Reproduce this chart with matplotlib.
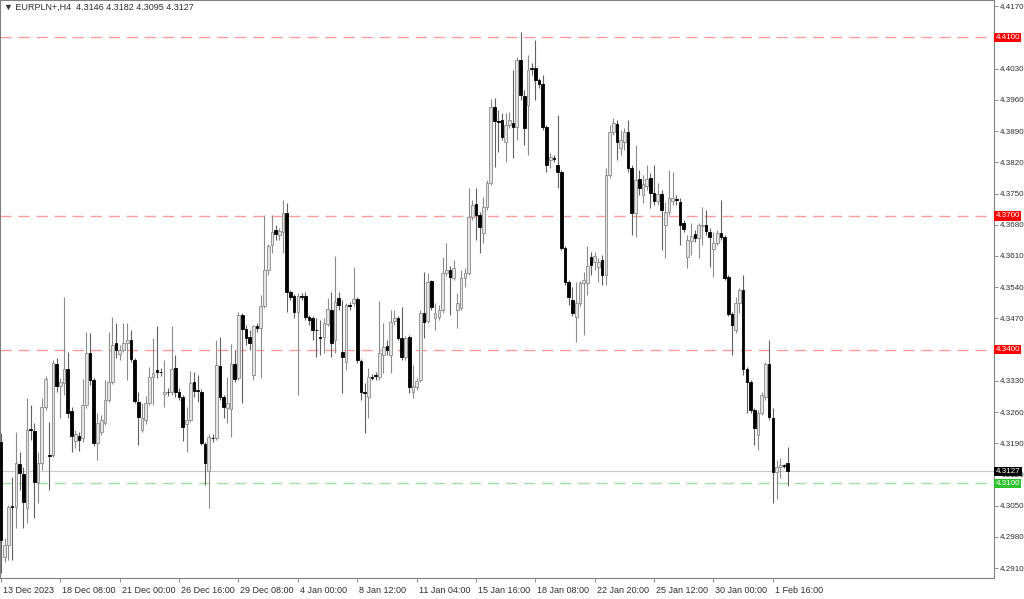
import numpy as np
import matplotlib
matplotlib.use('Agg')
import matplotlib.pyplot as plt
import matplotlib.transforms as mtransforms

plt.rcParams['font.family'] = ['Liberation Sans', 'DejaVu Sans']

# EURPLN+ H4 - lecture des bougies (open, high, low, close)
opens = [4.3193, 4.2935, 4.2962, 4.3049, 4.3047, 4.3143, 4.3121, 4.3045, 4.3222, 4.3217,
         4.3103, 4.3146, 4.3271, 4.3163, 4.3163, 4.3367, 4.3318, 4.3325, 4.3356, 4.3262,
         4.3195, 4.3206, 4.3202, 4.3276, 4.3392, 4.3332, 4.3190, 4.3215, 4.3235, 4.3287,
         4.3327, 4.3415, 4.3390, 4.3399, 4.3415, 4.3421, 4.3376, 4.3282, 4.3219, 4.3242,
         4.3280, 4.3338, 4.3354, 4.3350, 4.3300, 4.3305, 4.3305, 4.3359, 4.3305, 4.3293,
         4.3233, 4.3242, 4.3327, 4.3309, 4.3305, 4.3188, 4.3128, 4.3202, 4.3202, 4.3363,
         4.3293, 4.3269, 4.3267, 4.3367, 4.3336, 4.3477, 4.3446, 4.3428, 4.3343, 4.3453,
         4.3448, 4.3497, 4.3578, 4.3634, 4.3668, 4.3657, 4.3663, 4.3706, 4.3529, 4.3520,
         4.3484, 4.3520, 4.3520, 4.3473, 4.3471, 4.3444, 4.3428, 4.3428, 4.3457, 4.3489,
         4.3421, 4.3515, 4.3394, 4.3372, 4.3500, 4.3504, 4.3513, 4.3374, 4.3305, 4.3293,
         4.3338, 4.3343, 4.3338, 4.3388, 4.3408, 4.3388, 4.3464, 4.3471, 4.3426, 4.3383,
         4.3428, 4.3305, 4.3316, 4.3332, 4.3482, 4.3464, 4.3554, 4.3471, 4.3473, 4.3489,
         4.3572, 4.3578, 4.3560, 4.3489, 4.3493, 4.3560, 4.3572, 4.3697, 4.3726, 4.3701,
         4.3661, 4.3719, 4.3773, 4.3944, 4.3912, 4.3915, 4.3865, 4.3903, 4.3908, 4.3899,
         4.4049, 4.3968, 4.3948, 4.4031, 4.4031, 4.4004, 4.3995, 4.3899, 4.3825, 4.3829,
         4.3814, 4.3798, 4.3627, 4.3551, 4.3511, 4.3473, 4.3504, 4.3549, 4.3549, 4.3607,
         4.3596, 4.3585, 4.3601, 4.3567, 4.3791, 4.3888, 4.3906, 4.3852, 4.3865, 4.3888,
         4.3807, 4.3706, 4.3782, 4.3746, 4.3766, 4.3785, 4.3751, 4.3733, 4.3749, 4.3679,
         4.3708, 4.3733, 4.3737, 4.3731, 4.3684, 4.3607, 4.3643, 4.3659, 4.3650, 4.3677,
         4.3679, 4.3663, 4.3625, 4.3639, 4.3661, 4.3652, 4.3562, 4.3480, 4.3444, 4.3504,
         4.3533, 4.3356, 4.3327, 4.3264, 4.3208, 4.3258, 4.3293, 4.3367, 4.3246, 4.3125,
         4.3137, 4.3141, 4.3146]
highs = [4.3213, 4.2977, 4.3051, 4.3114, 4.3215, 4.3170, 4.3137, 4.3291, 4.3276, 4.3235,
         4.3170, 4.3291, 4.3341, 4.3237, 4.3376, 4.3381, 4.3336, 4.3518, 4.3394, 4.3271,
         4.3219, 4.3215, 4.3334, 4.3439, 4.3437, 4.3336, 4.3258, 4.3253, 4.3332, 4.3439,
         4.3473, 4.3459, 4.3410, 4.3459, 4.3459, 4.3444, 4.3381, 4.3305, 4.3280, 4.3296,
         4.3361, 4.3426, 4.3453, 4.3359, 4.3376, 4.3314, 4.3453, 4.3388, 4.3314, 4.3298,
         4.3271, 4.3352, 4.3350, 4.3343, 4.3311, 4.3193, 4.3210, 4.3210, 4.3421, 4.3428,
         4.3298, 4.3338, 4.3412, 4.3399, 4.3484, 4.3482, 4.3455, 4.3444, 4.3455, 4.3459,
         4.3522, 4.3701, 4.3636, 4.3701, 4.3679, 4.3672, 4.3735, 4.3728, 4.3533, 4.3524,
         4.3527, 4.3527, 4.3529, 4.3477, 4.3475, 4.3471, 4.3466, 4.3471, 4.3515, 4.3529,
         4.3610, 4.3529, 4.3511, 4.3504, 4.3506, 4.3585, 4.3518, 4.3379, 4.3325, 4.3359,
         4.3345, 4.3350, 4.3509, 4.3459, 4.3421, 4.3489, 4.3489, 4.3475, 4.3495, 4.3430,
         4.3432, 4.3365, 4.3336, 4.3489, 4.3574, 4.3572, 4.3556, 4.3504, 4.3500, 4.3607,
         4.3639, 4.3587, 4.3601, 4.3527, 4.3578, 4.3583, 4.3762, 4.3735, 4.3762, 4.3708,
         4.3742, 4.3780, 4.3962, 4.3964, 4.3937, 4.3930, 4.3930, 4.3932, 4.4027, 4.4056,
         4.4112, 4.3982, 4.4060, 4.4042, 4.4094, 4.4009, 4.4015, 4.3903, 4.3840, 4.3836,
         4.3926, 4.3802, 4.3632, 4.3556, 4.3540, 4.3551, 4.3554, 4.3574, 4.3632, 4.3619,
         4.3619, 4.3605, 4.3612, 4.3807, 4.3903, 4.3919, 4.3915, 4.3892, 4.3897, 4.3915,
         4.3814, 4.3858, 4.3802, 4.3791, 4.3814, 4.3796, 4.3814, 4.3773, 4.3757, 4.3731,
         4.3802, 4.3798, 4.3746, 4.3740, 4.3690, 4.3657, 4.3684, 4.3668, 4.3684, 4.3719,
         4.3713, 4.3672, 4.3663, 4.3668, 4.3735, 4.3657, 4.3567, 4.3484, 4.3518, 4.3538,
         4.3567, 4.3361, 4.3332, 4.3269, 4.3264, 4.3305, 4.3372, 4.3421, 4.3269, 4.3152,
         4.3157, 4.3143, 4.3182]
lows = [4.2899, 4.2924, 4.2928, 4.2928, 4.3000, 4.3085, 4.3000, 4.3011, 4.3197, 4.3022,
        4.3056, 4.3130, 4.3264, 4.3085, 4.3159, 4.3305, 4.3246, 4.3298, 4.3246, 4.3170,
        4.3179, 4.3172, 4.3193, 4.3269, 4.3320, 4.3184, 4.3152, 4.3208, 4.3231, 4.3282,
        4.3323, 4.3381, 4.3376, 4.3394, 4.3332, 4.3372, 4.3280, 4.3186, 4.3215, 4.3233,
        4.3276, 4.3276, 4.3336, 4.3341, 4.3271, 4.3296, 4.3298, 4.3293, 4.3287, 4.3195,
        4.3170, 4.3237, 4.3293, 4.3282, 4.3186, 4.3096, 4.3045, 4.3193, 4.3197, 4.3287,
        4.3246, 4.3235, 4.3204, 4.3327, 4.3332, 4.3280, 4.3410, 4.3399, 4.3332, 4.3439,
        4.3336, 4.3493, 4.3567, 4.3616, 4.3645, 4.3645, 4.3616, 4.3484, 4.3511, 4.3471,
        4.3298, 4.3511, 4.3466, 4.3455, 4.3421, 4.3383, 4.3388, 4.3392, 4.3453, 4.3383,
        4.3392, 4.3489, 4.3302, 4.3354, 4.3489, 4.3497, 4.3370, 4.3287, 4.3213, 4.3246,
        4.3332, 4.3332, 4.3332, 4.3347, 4.3388, 4.3347, 4.3455, 4.3421, 4.3376, 4.3376,
        4.3302, 4.3291, 4.3309, 4.3327, 4.3426, 4.3459, 4.3489, 4.3444, 4.3466, 4.3482,
        4.3565, 4.3477, 4.3556, 4.3448, 4.3489, 4.3540, 4.3567, 4.3690, 4.3645, 4.3616,
        4.3639, 4.3713, 4.3769, 4.3809, 4.3843, 4.3870, 4.3820, 4.3897, 4.3829, 4.3870,
        4.3959, 4.3858, 4.3836, 4.4015, 4.3959, 4.3986, 4.3892, 4.3798, 4.3807, 4.3820,
        4.3762, 4.3623, 4.3545, 4.3500, 4.3475, 4.3417, 4.3497, 4.3432, 4.3522, 4.3567,
        4.3578, 4.3551, 4.3545, 4.3545, 4.3785, 4.3881, 4.3825, 4.3836, 4.3847, 4.3798,
        4.3657, 4.3652, 4.3746, 4.3728, 4.3757, 4.3717, 4.3724, 4.3724, 4.3623, 4.3605,
        4.3701, 4.3724, 4.3724, 4.3634, 4.3663, 4.3583, 4.3612, 4.3641, 4.3605, 4.3634,
        4.3657, 4.3585, 4.3562, 4.3634, 4.3645, 4.3556, 4.3475, 4.3388, 4.3437, 4.3482,
        4.3343, 4.3258, 4.3258, 4.3186, 4.3175, 4.3253, 4.3287, 4.3242, 4.3056, 4.3065,
        4.3112, 4.3134, 4.3095]
closes = [4.2973, 4.2962, 4.3047, 4.3047, 4.3146, 4.3123, 4.3058, 4.3219, 4.3219, 4.3103,
          4.3146, 4.3271, 4.3334, 4.3161, 4.3370, 4.3318, 4.3327, 4.3356, 4.3258, 4.3206,
          4.3210, 4.3197, 4.3276, 4.3392, 4.3332, 4.3190, 4.3235, 4.3242, 4.3287, 4.3327,
          4.3410, 4.3399, 4.3399, 4.3415, 4.3421, 4.3379, 4.3284, 4.3249, 4.3246, 4.3280,
          4.3338, 4.3347, 4.3350, 4.3349, 4.3305, 4.3304, 4.3356, 4.3305, 4.3293, 4.3226,
          4.3242, 4.3325, 4.3307, 4.3308, 4.3190, 4.3146, 4.3204, 4.3201, 4.3365, 4.3293,
          4.3271, 4.3280, 4.3367, 4.3334, 4.3477, 4.3446, 4.3426, 4.3415, 4.3453, 4.3448,
          4.3497, 4.3578, 4.3632, 4.3663, 4.3659, 4.3666, 4.3706, 4.3529, 4.3518, 4.3484,
          4.3520, 4.3519, 4.3473, 4.3466, 4.3444, 4.3443, 4.3427, 4.3459, 4.3491, 4.3415,
          4.3506, 4.3500, 4.3383, 4.3500, 4.3499, 4.3513, 4.3376, 4.3305, 4.3302, 4.3338,
          4.3337, 4.3341, 4.3392, 4.3406, 4.3399, 4.3462, 4.3471, 4.3426, 4.3383, 4.3426,
          4.3316, 4.3318, 4.3329, 4.3482, 4.3462, 4.3551, 4.3495, 4.3482, 4.3489, 4.3572,
          4.3578, 4.3562, 4.3583, 4.3504, 4.3560, 4.3572, 4.3697, 4.3724, 4.3701, 4.3675,
          4.3719, 4.3773, 4.3944, 4.3912, 4.3911, 4.3876, 4.3903, 4.3915, 4.3899, 4.4049,
          4.3971, 4.3897, 4.4027, 4.4030, 4.4004, 4.3995, 4.3899, 4.3814, 4.3832, 4.3828,
          4.3798, 4.3627, 4.3551, 4.3518, 4.3482, 4.3504, 4.3549, 4.3556, 4.3587, 4.3589,
          4.3610, 4.3596, 4.3567, 4.3791, 4.3888, 4.3908, 4.3865, 4.3870, 4.3888, 4.3807,
          4.3706, 4.3780, 4.3762, 4.3771, 4.3782, 4.3751, 4.3733, 4.3749, 4.3713, 4.3708,
          4.3740, 4.3740, 4.3735, 4.3679, 4.3670, 4.3645, 4.3654, 4.3650, 4.3679, 4.3679,
          4.3666, 4.3652, 4.3639, 4.3661, 4.3652, 4.3560, 4.3480, 4.3455, 4.3504, 4.3533,
          4.3356, 4.3327, 4.3264, 4.3224, 4.3258, 4.3298, 4.3367, 4.3249, 4.3125, 4.3137,
          4.3141, 4.3139, 4.3127]

date_labels = ['13 Dec 2023', '18 Dec 08:00', '21 Dec 00:00', '26 Dec 16:00', '29 Dec 08:00',
               '4 Jan 00:00', '8 Jan 12:00', '11 Jan 04:00', '15 Jan 16:00', '18 Jan 08:00',
               '22 Jan 20:00', '25 Jan 12:00', '30 Jan 00:00', '1 Feb 16:00']
bars_per_label = 16

price_ticks = [4.4170, 4.4100, 4.4030, 4.3960, 4.3890, 4.3820, 4.3750, 4.3680, 4.3610,
               4.3540, 4.3470, 4.3400, 4.3330, 4.3260, 4.3190, 4.3120, 4.3050, 4.2980, 4.2910]
red_levels = [4.4100, 4.3700, 4.3400]
green_levels = [4.3100]

o = np.array(opens)
h = np.array(highs)
l = np.array(lows)
c = np.array(closes)
x = np.arange(len(o))
up = c >= o

fig = plt.figure(figsize=(10.24, 5.99), dpi=100)
ax = fig.add_axes([0, 21 / 599, 994 / 1024, 578 / 599])

# lignes horizontales
for lv in red_levels:
    ax.axhline(lv, color='#ff9c9c', lw=1.0, ls=(0, (8, 5)), zorder=1)
for lv in green_levels:
    ax.axhline(lv, color='#a6dca6', lw=1.0, ls=(0, (8, 5)), zorder=1)
ax.axhline(c[-1], color='#c8c8c8', lw=0.8, zorder=1)

# meches
ax.vlines(x[up], l[up], h[up], color='#8c8c8c', lw=0.8, zorder=2)
ax.vlines(x[~up], l[~up], h[~up], color='#606060', lw=0.8, zorder=2)

# corps
w = 0.72
body = np.maximum(np.abs(c - o), 0.00004)
bottom = np.minimum(o, c)
ax.bar(x[up], body[up], w, bottom=bottom[up], color='#e4e4e4', edgecolor='#8c8c8c',
       linewidth=0.6, zorder=3)
ax.bar(x[~up], body[~up], w, bottom=bottom[~up], color='black', edgecolor='black',
       linewidth=0.6, zorder=3)

ax.set_xlim(-0.27, 267.6)
ax.set_ylim(4.2888, 4.4184)

for s in ax.spines.values():
    s.set_color('#808080')
    s.set_linewidth(0.8)

# les niveaux encadres cachent le libelle normal
boxed = [round(v, 4) for v in red_levels + green_levels]
ax.yaxis.tick_right()
ax.set_yticks(price_ticks)
ax.set_yticklabels(['' if round(t, 4) in boxed else '%.4f' % t for t in price_ticks])
ax.tick_params(axis='y', direction='out', length=3, width=0.6, color='#808080',
               labelsize=5.8, labelcolor='#303030', pad=1.5)

ax.set_xticks(x[::bars_per_label][:len(date_labels)])
ax.set_xticklabels(date_labels)
ax.tick_params(axis='x', direction='out', length=3, width=0.6, color='#808080',
               labelsize=6.5, labelcolor='#303030', pad=3)
offset = mtransforms.ScaledTranslation(2 / 100, 0, fig.dpi_scale_trans)
for lab in ax.get_xticklabels():
    lab.set_horizontalalignment('left')
    lab.set_transform(lab.get_transform() + offset)

# etiquettes de prix
def price_box(val, bg):
    ax.annotate('%.4f' % val, xy=(1.0, val), xycoords=('axes fraction', 'data'),
                xytext=(1.2, 0), textcoords='offset points', ha='left', va='center',
                fontsize=5.8, color='white', zorder=10, annotation_clip=False,
                bbox=dict(boxstyle='square,pad=0.15', fc=bg, ec='none'))

for lv in red_levels:
    price_box(lv, '#ff0000')
for lv in green_levels:
    price_box(lv, '#2fc22f')
price_box(c[-1], 'black')

title = '\u25bc EURPLN+,H4  %.4f %.4f %.4f %.4f' % (o[-1], h[-1], l[-1], c[-1])
ax.text(4 / 994, 1 - 7 / 578, title, transform=ax.transAxes, fontsize=6.5,
        color='#303030', ha='left', va='center')

fig.savefig('out.png', dpi=100)
